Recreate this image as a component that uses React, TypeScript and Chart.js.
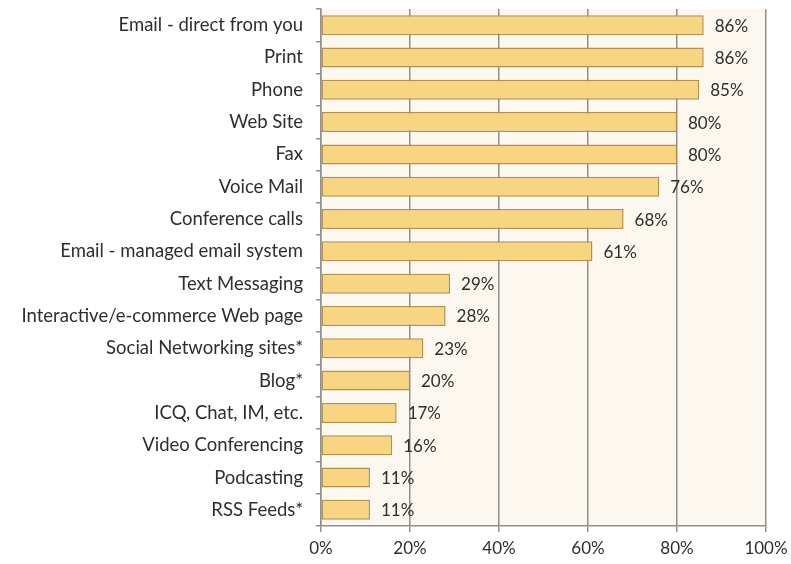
import React, { useEffect, useRef } from "react";
import { Chart, registerables } from "chart.js";

Chart.register(...registerables);

const categories = [
  "Email - direct from you",
  "Print",
  "Phone",
  "Web Site",
  "Fax",
  "Voice Mail",
  "Conference calls",
  "Email - managed email system",
  "Text Messaging",
  "Interactive/e-commerce Web page",
  "Social Networking sites*",
  "Blog*",
  "ICQ, Chat, IM, etc.",
  "Video Conferencing",
  "Podcasting",
  "RSS Feeds*",
];
const values = [86, 86, 85, 80, 80, 76, 68, 61, 29, 28, 23, 20, 17, 16, 11, 11];
const xTicks = [0, 20, 40, 60, 80, 100];

const FONT = "Lato, 'Open Sans', sans-serif";

export default function App() {
  const ref = useRef<HTMLCanvasElement | null>(null);
  useEffect(() => {
    if (!ref.current) return;
    const bgPlugin = {
      id: "bg",
      beforeDraw(chart: any) {
        const { ctx, chartArea } = chart;
        ctx.save();
        ctx.fillStyle = "#fcf8ef";
        ctx.fillRect(chartArea.left, chartArea.top, chartArea.right - chartArea.left, chartArea.bottom - chartArea.top);
        ctx.restore();
      },
    };
    const labelPlugin = {
      id: "vals",
      afterDatasetsDraw(chart: any) {
        const { ctx } = chart;
        const meta = chart.getDatasetMeta(0);
        ctx.save();
        ctx.fillStyle = "#2e2e2e";
        ctx.font = `17px ${FONT}`;
        ctx.textBaseline = "middle";
        ctx.textAlign = "left";
        meta.data.forEach((bar: any, i: number) => {
          ctx.fillText(values[i] + "%", bar.x + 11, bar.y + 1);
        });
        ctx.restore();
      },
    };
    const chart = new Chart(ref.current, {
      type: "bar",
      data: {
        labels: categories,
        datasets: [
          {
            data: values,
            backgroundColor: "#f7d581",
            borderColor: "#b0924e",
            borderWidth: 1.5,
            borderSkipped: false,
            categoryPercentage: 1,
            barPercentage: 0.62,
          },
        ],
      },
      options: {
        indexAxis: "y",
        animation: false,
        responsive: false,
        maintainAspectRatio: false,
        layout: { padding: { top: 9, right: 25, left: 0, bottom: 0 } },
        plugins: { legend: { display: false }, tooltip: { enabled: false } },
        scales: {
          x: {
            min: 0,
            max: 100,
            afterBuildTicks(scale: any) {
              scale.ticks = xTicks.map((v) => ({ value: v }));
            },
            afterFit(scale: any) {
              scale.height = 38;
              scale.paddingLeft = 0;
              scale.paddingRight = 0;
            },
            grid: {
              color: "#8f8f8f",
              lineWidth: 1.5,
              tickLength: 6,
              drawTicks: true,
            },
            border: { color: "#8f8f8f", width: 1.5 },
            ticks: {
              padding: 6,
              color: "#2e2e2e",
              font: { family: FONT, size: 17 },
              callback: (v: any) => v + "%",
            },
          },
          y: {
            afterFit(scale: any) {
              scale.width = 321;
              scale.paddingTop = 0;
              scale.paddingBottom = 0;
            },
            grid: {
              drawOnChartArea: false,
              color: "#8f8f8f",
              lineWidth: 1.5,
              tickLength: 5,
              offset: true,
            },
            border: { color: "#8f8f8f", width: 1.5 },
            ticks: {
              padding: 13,
              color: "#2e2e2e",
              font: { family: FONT, size: 18.5 },
            },
          },
        },
      },
      plugins: [bgPlugin, labelPlugin],
    });
    return () => chart.destroy();
  }, []);
  return (
    <div style={{ position: "fixed", left: 0, top: 0, width: 791, height: 564, background: "#ffffff" }}>
      <canvas ref={ref} width={791} height={564} style={{ width: 791, height: 564 }} />
    </div>
  );
}
